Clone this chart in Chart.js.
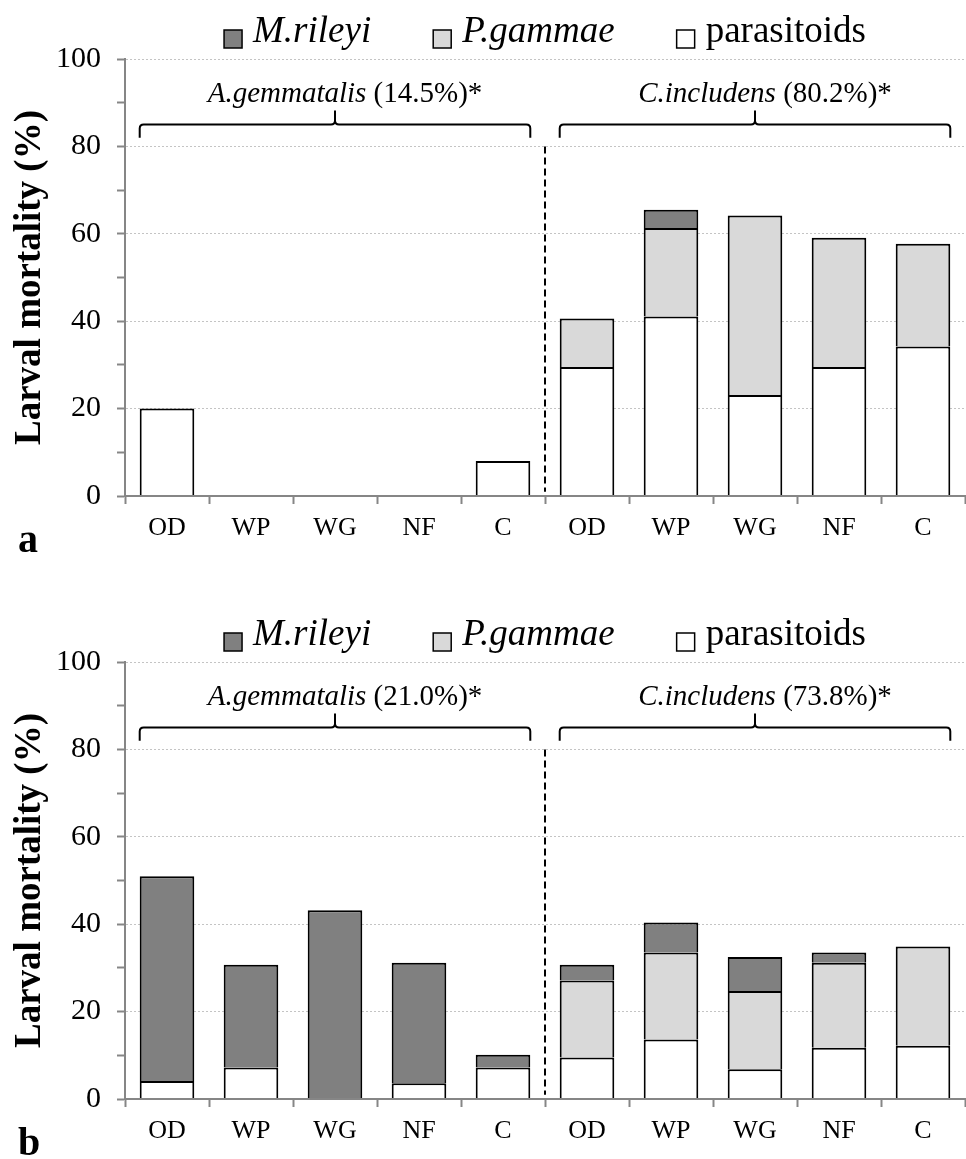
<!DOCTYPE html>
<html>
<head>
<meta charset="utf-8">
<script src="https://cdn.jsdelivr.net/npm/chart.js@4.4.0/dist/chart.umd.min.js"></script>
<style>
  body { margin: 0; background: #fff; }
  .panel { position: absolute; left: 0; width: 966px; height: 580px; }
</style>
</head>
<body>
<div class="panel" style="top:0"><canvas id="chartA" width="966" height="580"></canvas></div>
<div class="panel" style="top:580px"><canvas id="chartB" width="966" height="580"></canvas></div>
<script>
const categories = ['OD', 'WP', 'WG', 'NF', 'C', 'OD', 'WP', 'WG', 'NF', 'C'];
const yTicks = [0, 20, 40, 60, 80, 100];
const seriesNames = ['parasitoids', 'P.gammae', 'M.rileyi'];
const seriesColors = ['#ffffff', '#d9d9d9', '#808080'];

// panel a
const parasitoidsA = [20, null, null, null, 8, 29.5, 41.1, 23.1, 29.5, 34.2];
const gammaeA = [null, null, null, null, null, 11.1, 20.2, 41.1, 29.6, 23.5];
const rileyiA = [null, null, null, null, null, null, 4.2, null, null, null];
const groupsA = [['A.gemmatalis', ' (14.5%)*'], ['C.includens', ' (80.2%)*']];

// panel b
const parasitoidsB = [4.1, 7.2, null, 3.6, 7.2, 9.5, 13.6, 6.8, 11.7, 12.2];
const gammaeB = [null, null, null, null, null, 17.6, 19.9, 17.9, 19.5, 22.7];
const rileyiB = [46.9, 23.5, 43.2, 27.6, 2.9, 3.6, 6.9, 7.8, 2.3, null];
const groupsB = [['A.gemmatalis', ' (21.0%)*'], ['C.includens', ' (73.8%)*']];

const serif = "'Liberation Serif', 'Times New Roman', serif";
Chart.defaults.font.family = serif;
Chart.defaults.color = '#000';

// legend, braces, group labels, dashed divider and panel letter
const extras = {
    id: 'extras',
    afterDraw(chart, args, opts) {
        const ctx = chart.ctx;
        const x = chart.scales.x;
        const y = chart.scales.y;
        const area = chart.chartArea;
        ctx.save();

        // legend (reversed order, species in italic)
        const items = chart.data.datasets.slice().reverse();
        const box = 18, boxGap = 11, itemGap = 62;
        const legendFont = d => (d.label === 'parasitoids' ? '' : 'italic ') + '37px ' + serif;
        let widths = items.map(d => {
            ctx.font = legendFont(d);
            return box + boxGap + ctx.measureText(d.label).width;
        });
        let total = widths.reduce((a, b) => a + b, 0) + itemGap * (items.length - 1);
        let lx = (area.left + area.right) / 2 - total / 2;
        const base = area.top - 17;
        items.forEach((d, i) => {
            ctx.fillStyle = d.backgroundColor;
            ctx.fillRect(lx, base - 12, box, box);
            ctx.strokeStyle = '#000';
            ctx.lineWidth = 1.5;
            ctx.strokeRect(lx, base - 12, box, box);
            ctx.fillStyle = '#000';
            ctx.font = legendFont(d);
            ctx.textBaseline = 'alphabetic';
            ctx.textAlign = 'left';
            ctx.fillText(d.label, lx + box + boxGap, base);
            lx += widths[i] + itemGap;
        });

        // braces and labels over the two groups
        const step = x.getPixelForValue(1) - x.getPixelForValue(0);
        const half = step * 0.65 / 2;
        const yEnd = y.getPixelForValue(82), yLine = y.getPixelForValue(85);
        const yTip = y.getPixelForValue(88.2), yText = y.getPixelForValue(90.1);
        opts.groups.forEach((g, gi) => {
            const x1 = x.getPixelForValue(gi * 5) - half;
            const x2 = x.getPixelForValue(gi * 5 + 4) + half;
            const xm = (x1 + x2) / 2;
            ctx.strokeStyle = '#000';
            ctx.lineWidth = 2;
            ctx.beginPath();
            ctx.moveTo(x1, yEnd);
            ctx.lineTo(x1, yLine + 4);
            ctx.quadraticCurveTo(x1, yLine, x1 + 4, yLine);
            ctx.lineTo(xm - 4, yLine);
            ctx.quadraticCurveTo(xm, yLine, xm, yLine - 4);
            ctx.lineTo(xm, yTip);
            ctx.moveTo(xm, yLine - 4);
            ctx.quadraticCurveTo(xm, yLine, xm + 4, yLine);
            ctx.lineTo(x2 - 4, yLine);
            ctx.quadraticCurveTo(x2, yLine, x2, yLine + 4);
            ctx.lineTo(x2, yEnd);
            ctx.stroke();

            ctx.font = 'italic 29px ' + serif;
            const w1 = ctx.measureText(g[0]).width;
            ctx.font = '29px ' + serif;
            const w2 = ctx.measureText(g[1]).width;
            let tx = xm + 10 - (w1 + w2) / 2;
            ctx.fillStyle = '#000';
            ctx.textAlign = 'left';
            ctx.font = 'italic 29px ' + serif;
            ctx.fillText(g[0], tx, yText);
            ctx.font = '29px ' + serif;
            ctx.fillText(g[1], tx + w1, yText);
        });

        // dashed divider between species
        const dx = (x.getPixelForValue(4) + x.getPixelForValue(5)) / 2;
        ctx.setLineDash([7, 4]);
        ctx.lineWidth = 2;
        ctx.beginPath();
        ctx.moveTo(dx, y.getPixelForValue(80));
        ctx.lineTo(dx, y.getPixelForValue(1));
        ctx.stroke();
        ctx.setLineDash([]);

        // panel letter
        ctx.font = 'bold 40px ' + serif;
        ctx.fillText(opts.letter, 18, area.bottom + 56);
        ctx.restore();
    }
};

function makeChart(id, parasitoids, gammae, rileyi, groups, letter, top, xHeight) {
    const values = [parasitoids, gammae, rileyi];
    return new Chart(document.getElementById(id), {
        type: 'bar',
        data: {
            labels: categories,
            datasets: values.map((v, i) => ({
                label: seriesNames[i],
                data: v,
                backgroundColor: seriesColors[i],
                borderColor: '#000',
                borderWidth: 2,
                barPercentage: 0.65,
                categoryPercentage: 1.0
            }))
        },
        options: {
            responsive: false,
            animation: false,
            devicePixelRatio: 1,
            layout: { padding: { top: top, right: 1, left: 0, bottom: 0 } },
            plugins: {
                legend: { display: false },
                tooltip: { enabled: false },
                extras: { groups: groups, letter: letter }
            },
            scales: {
                x: {
                    stacked: true,
                    ticks: { font: { size: 26 }, color: '#000', padding: 9, autoSkip: false, maxRotation: 0 },
                    grid: { offset: true, drawOnChartArea: false, tickColor: '#868686', tickWidth: 2, tickLength: 8 },
                    border: { color: '#868686', width: 2, z: 1 },
                    afterFit: s => { s.height = xHeight; }
                },
                y: {
                    stacked: true,
                    min: 0,
                    max: 100,
                    ticks: {
                        stepSize: 10,
                        font: { size: 30 },
                        color: '#000',
                        padding: 16,
                        callback: v => yTicks.includes(v) ? v : ''
                    },
                    grid: {
                        color: c => (c.tick && yTicks.includes(c.tick.value) && c.tick.value > 0) ? '#c4c4c4' : 'rgba(0,0,0,0)',
                        lineWidth: 1,
                        tickColor: '#868686',
                        tickWidth: 2,
                        tickLength: 8
                    },
                    border: { color: '#868686', width: 2, dash: [2, 2], z: 1 },
                    title: {
                        display: true,
                        text: 'Larval mortality (%)',
                        font: { size: 37, weight: 'bold' },
                        color: '#000',
                        padding: { top: 8, bottom: 0 }
                    },
                    afterFit: s => { s.width = 125; }
                }
            }
        },
        plugins: [extras]
    });
}

makeChart('chartA', parasitoidsA, gammaeA, rileyiA, groupsA, 'a', 59, 84);
makeChart('chartB', parasitoidsB, gammaeB, rileyiB, groupsB, 'b', 82, 61);
</script>
</body>
</html>
